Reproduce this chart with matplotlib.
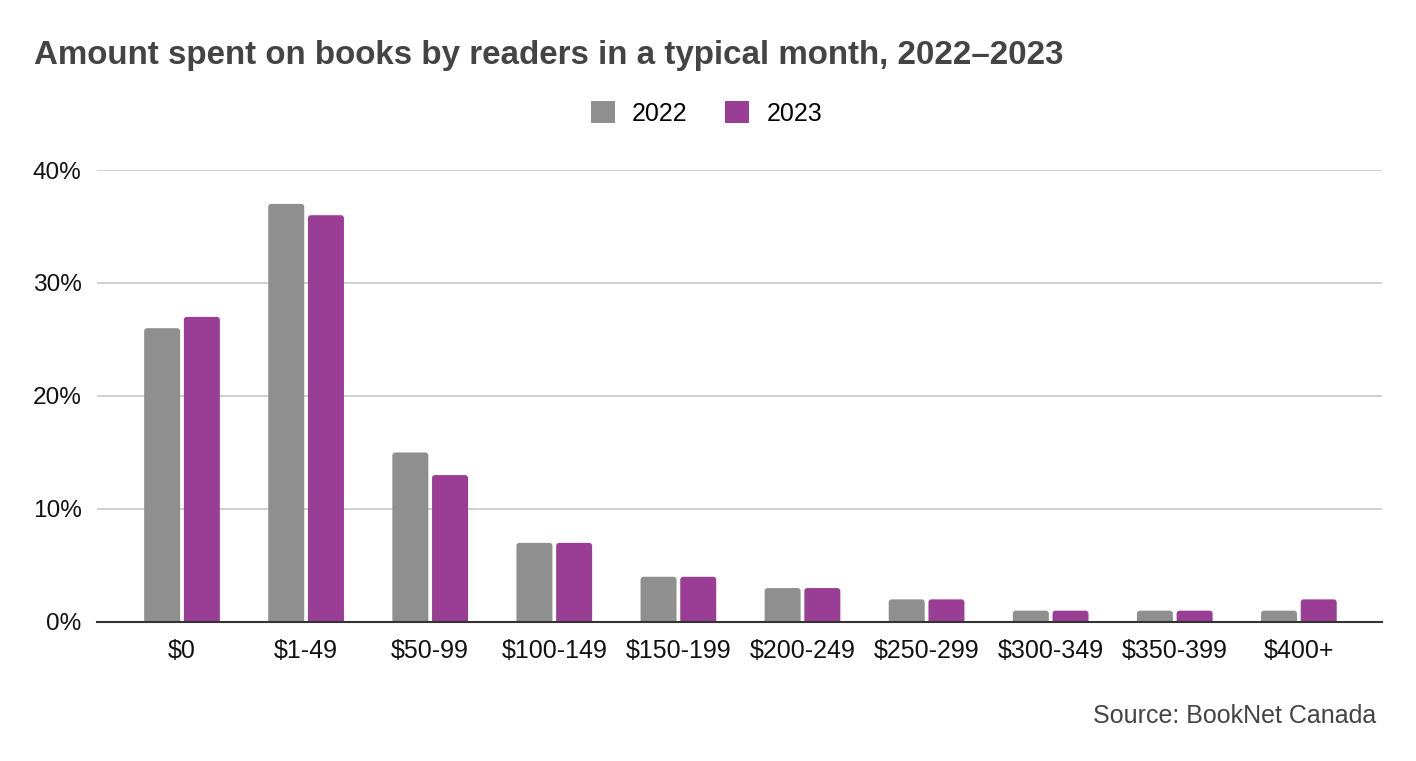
import numpy as np
import matplotlib.pyplot as plt
from matplotlib.patches import FancyBboxPatch, Patch
from matplotlib.ticker import FuncFormatter

plt.rcParams['font.family'] = ['Liberation Sans', 'DejaVu Sans']

categories = ['$0', '$1-49', '$50-99', '$100-149', '$150-199', '$200-249',
              '$250-299', '$300-349', '$350-399', '$400+']
values_2022 = [26, 37, 15, 7, 4, 3, 2, 1, 1, 1]
values_2023 = [27, 36, 13, 7, 4, 3, 2, 1, 1, 2]

grey = '#8f8f8f'
purple = '#9a3d95'

fig = plt.figure(figsize=(14.16, 7.61), dpi=100)
ax = fig.add_axes([0.0685, 0.1827, 0.9075, 0.5939])

x = np.arange(len(categories))
w = 0.29
bars = [ax.bar(x - 0.16, values_2022, width=w, color=grey, zorder=3),
        ax.bar(x + 0.16, values_2023, width=w, color=purple, zorder=3)]

# swap in rounded-top versions of the bars (bottoms pushed below 0 and clipped)
for cont in bars:
    for b in cont:
        bx, bw, bh = b.get_x(), b.get_width(), b.get_height()
        rp = FancyBboxPatch((bx, -0.5), bw, bh + 0.5,
                            boxstyle='round,pad=0,rounding_size=0.024',
                            mutation_aspect=11, facecolor=b.get_facecolor(),
                            edgecolor='none', zorder=3)
        ax.add_patch(rp)
        b.set_visible(False)

ax.set_xlim(-0.685, 9.67)
ax.set_ylim(0, 40)
ax.set_yticks([0, 10, 20, 30, 40])
ax.yaxis.set_major_formatter(FuncFormatter(lambda v, p: f'{v:.0f}%'))
ax.set_xticks(x)
ax.set_xticklabels(categories)
ax.tick_params(axis='both', length=0, labelsize=18, colors='#111111')
ax.tick_params(axis='y', labelsize=17.6)
ax.tick_params(axis='x', pad=12)
ax.tick_params(axis='y', pad=11)
ax.grid(axis='y', color='#cccccc', linewidth=1.3, zorder=0)
for s in ['top', 'right', 'left']:
    ax.spines[s].set_visible(False)
ax.spines['bottom'].set_color('#333333')
ax.spines['bottom'].set_linewidth(1.5)
ax.spines['bottom'].set_zorder(4)

fig.text(0.024, 0.927, 'Amount spent on books by readers in a typical month, 2022\u20132023',
         fontsize=23.9, fontweight='bold', color='#444444', ha='left', va='center')
handles = [Patch(facecolor=grey, label='2022'), Patch(facecolor=purple, label='2023')]
fig.legend(handles=handles, loc='center', bbox_to_anchor=(0.499, 0.851), ncol=2,
           frameon=False, fontsize=18, handlelength=0.95, handleheight=0.95,
           columnspacing=1.5, handletextpad=0.7)
fig.text(0.972, 0.059, 'Source: BookNet Canada', fontsize=18, color='#444444',
         ha='right', va='center')

fig.savefig('out.png', dpi=100)
